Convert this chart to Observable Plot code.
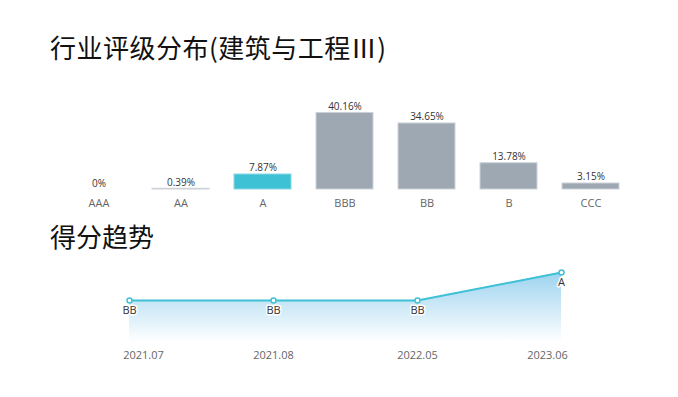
<!DOCTYPE html>
<html>
<head>
<meta charset="utf-8">
<script src="https://cdn.jsdelivr.net/npm/d3@7"></script>
<script src="https://cdn.jsdelivr.net/npm/@observablehq/plot@0.6"></script>
<style>
  html, body { margin: 0; padding: 0; background: #fff; width: 678px; height: 397px; overflow: hidden; }
  .title { position: absolute; left: 50px; font-family: "Noto Sans CJK SC", sans-serif; font-size: 26px; line-height: 26px; color: #111; white-space: nowrap; }
  .chart { position: absolute; left: 0; }
</style>
</head>
<body>
<div class="title" id="t1" style="top:34px; letter-spacing:0.5px">行业评级分布(建筑与工程Ⅲ)</div>
<div class="chart" id="c1" style="top:88px"></div>
<div class="title" id="t2" style="top:223px">得分趋势</div>
<div class="chart" id="c2" style="top:255px"></div>
<script>
// Rating distribution
const ratings = ["AAA", "AA", "A", "BBB", "BB", "B", "CCC"];
const shares = [0, 0.39, 7.87, 40.16, 34.65, 13.78, 3.15];
const highlight = "A";

// Score trend
const trendDates = ["2021.07", "2021.08", "2022.05", "2023.06"];
const trendRatings = ["BB", "BB", "BB", "A"];

const latin = "'Open Sans', 'Noto Sans', sans-serif";

const bars = ratings.map((r, i) => ({rating: r, share: shares[i]}));

const barChart = Plot.plot({
  width: 678,
  height: 128,
  marginLeft: 54.8,
  marginRight: 43.6,
  marginTop: 0,
  marginBottom: 27,
  style: {fontFamily: latin, background: "transparent"},
  x: {domain: ratings, paddingInner: 0.306, paddingOuter: 0.153, label: null},
  y: {domain: [0, 45], range: [101, 101 - 45 * 1.906], axis: null},
  marks: [
    Plot.barY(bars, {
      x: "rating", y: "share",
      fill: d => d.rating === highlight ? "#3ec1d5" : "#9ea8b3",
      stroke: d => d.rating === highlight ? "#8ad8e5" : "#cdd2d8",
      strokeWidth: 1
    }),
    Plot.text(bars, {
      x: "rating", y: "share",
      text: d => d.share + "%",
      lineAnchor: "bottom", dy: -3,
      fontSize: 10, fill: "#333"
    }),
    Plot.axisX({tickSize: 0, tickPadding: 10, fontSize: 11, color: "#666", label: null})
  ]
});
document.getElementById("c1").appendChild(barChart);

// trend: rating to score (higher is better)
const score = r => ratings.length - ratings.indexOf(r);
const trend = trendDates.map((d, i) => ({date: d, rating: trendRatings[i], score: score(trendRatings[i])}));

const axisStyle = {tickSize: 0, tickPadding: 9, fontSize: 11, color: "#666", label: null};

const lineChart = Plot.plot({
  width: 678,
  height: 120,
  marginLeft: 128,
  marginRight: 117,
  marginTop: 0,
  marginBottom: 33,
  style: {fontFamily: latin, background: "transparent", overflow: "visible"},
  x: {type: "point", domain: trendDates, padding: 0, label: null, axis: null},
  y: {domain: [0, 5], range: [87, 17], axis: null},
  marks: [
    Plot.areaY(trend, {x: "date", y: "score", fill: "url(#trendGrad)"}),
    Plot.lineY(trend, {x: "date", y: "score", stroke: "#3ec1d5", strokeWidth: 2}),
    Plot.dot(trend, {x: "date", y: "score", r: 2.5, fill: "white", stroke: "#3ec1d5", strokeWidth: 1.5}),
    Plot.text(trend, {
      x: "date", y: "score", text: "rating",
      dy: 10, fontSize: 11, fill: "#333",
      stroke: "white", strokeWidth: 3
    }),
    Plot.axisX(trendDates.slice(0, 1), {...axisStyle, dx: 14}),
    Plot.axisX(trendDates.slice(1, -1), axisStyle),
    Plot.axisX(trendDates.slice(-1), {...axisStyle, dx: -14})
  ]
});
const svg = d3.select(lineChart);
const grad = svg.insert("defs", ":first-child").append("linearGradient")
  .attr("id", "trendGrad").attr("x1", 0).attr("y1", 0).attr("x2", 0).attr("y2", 1);
grad.append("stop").attr("offset", "0%").attr("stop-color", "#9dd3ef");
grad.append("stop").attr("offset", "100%").attr("stop-color", "#ffffff");
document.getElementById("c2").appendChild(lineChart);
</script>
</body>
</html>
